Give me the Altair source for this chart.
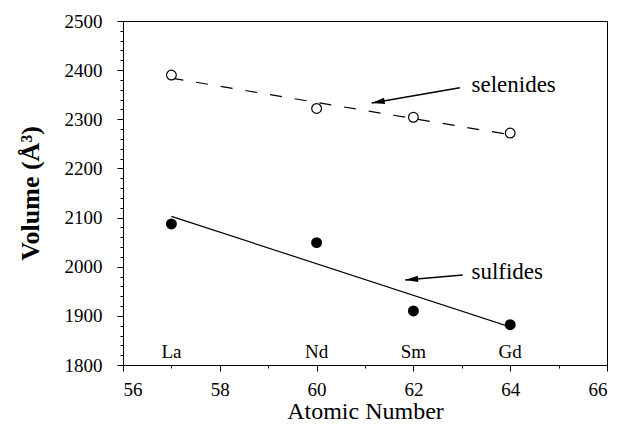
import altair as alt
import pandas as pd

# ---- data ----
atomic_number = [57, 60, 62, 64]
element = ["La", "Nd", "Sm", "Gd"]
selenide_volume = [2390, 2322, 2304, 2272]
sulfide_volume = [2087, 2049, 1910, 1882]
label_level = 1815

annot_text = ["selenides", "sulfides"]
annot_x = [63.2, 63.2]
annot_y = [2370, 1989]
arrow_tail_x = [62.96, 63.02]
arrow_tail_y = [2364, 1983]
arrow_tip_x = [61.14, 61.83]
arrow_tip_y = [2333, 1973]
arrow_angle = [260, 265]

x_major = [56, 58, 60, 62, 64, 66]
x_minor = list(range(56, 67))
y_major = [1800, 1900, 2000, 2100, 2200, 2300, 2400, 2500]
y_minor = list(range(1800, 2501, 20))

FONT = "Liberation Serif"

sel = pd.DataFrame({"Z": atomic_number, "V": selenide_volume})
sul = pd.DataFrame({"Z": atomic_number, "V": sulfide_volume})
labels = pd.DataFrame({"Z": atomic_number, "V": [label_level] * 4, "t": element})
annots = pd.DataFrame({"Z": annot_x, "V": annot_y, "t": annot_text})
arrows = pd.DataFrame({"Z": arrow_tail_x, "V": arrow_tail_y,
                       "Z2": arrow_tip_x, "V2": arrow_tip_y})
heads = pd.DataFrame({"Z": arrow_tip_x, "V": arrow_tip_y, "a": arrow_angle})

xs = alt.Scale(domain=[56, 66], nice=False, zero=False)
ys = alt.Scale(domain=[1800, 2500], nice=False, zero=False)

x_axis = alt.Axis(values=x_major, format="d", title="Atomic Number",
                  tickSize=6, labelPadding=9, titlePadding=0,
                  labelFont=FONT, titleFont=FONT,
                  labelFontSize=19, titleFontSize=24, titleFontWeight="normal",
                  labelColor="black", titleColor="black",
                  domainColor="black", tickColor="black",
                  orient="bottom", grid=False)
y_axis = alt.Axis(values=y_major, format="d", title="Volume (Å³)",
                  tickSize=6, labelPadding=15, titlePadding=21,
                  labelFont=FONT, titleFont=FONT,
                  labelFontSize=19, titleFontSize=26, titleFontWeight="bold",
                  labelColor="black", titleColor="black",
                  domainColor="black", tickColor="black",
                  orient="left", grid=False)
x_minor_axis = alt.Axis(values=x_minor, labels=False, title=None, tickSize=3,
                        tickColor="black", domain=False, grid=False, orient="bottom")
y_minor_axis = alt.Axis(values=y_minor, labels=False, title=None, tickSize=3,
                        tickColor="black", domain=False, grid=False, orient="left")

X = alt.X("Z:Q", scale=xs, axis=None)
Y = alt.Y("V:Q", scale=ys, axis=None)

major = alt.Chart(sel).mark_point(opacity=0).encode(
    x=alt.X("Z:Q", scale=xs, axis=x_axis),
    y=alt.Y("V:Q", scale=ys, axis=y_axis))
minor = alt.Chart(sel).mark_point(opacity=0).encode(
    x=alt.X("Z:Q", scale=xs, axis=x_minor_axis),
    y=alt.Y("V:Q", scale=ys, axis=y_minor_axis))

sel_line = alt.Chart(sel).transform_regression("Z", "V").mark_line(
    color="black", strokeWidth=1.2, strokeDash=[12, 13]).encode(x=X, y=Y)
sul_line = alt.Chart(sul).transform_regression("Z", "V").mark_line(
    color="black", strokeWidth=1.2).encode(x=X, y=Y)
sel_pts = alt.Chart(sel).mark_point(
    shape="circle", filled=True, fill="white", stroke="black",
    strokeWidth=1.2, size=95, opacity=1).encode(x=X, y=Y)
sul_pts = alt.Chart(sul).mark_point(
    shape="circle", filled=True, color="black", size=120, opacity=1).encode(x=X, y=Y)
elem_txt = alt.Chart(labels).mark_text(
    font=FONT, fontSize=19, color="black", baseline="alphabetic", align="center"
).encode(x=X, y=Y, text="t:N")
annot_txt = alt.Chart(annots).mark_text(
    font=FONT, fontSize=23, color="black", baseline="middle", align="left"
).encode(x=X, y=Y, text="t:N")
arrow_lines = alt.Chart(arrows).mark_rule(color="black", strokeWidth=1.5).encode(
    x=X, y=Y, x2="Z2:Q", y2="V2:Q")
arrow_heads = alt.Chart(heads).mark_point(
    shape="M0,0L1,4L-1,4Z", filled=True, color="black", size=42, opacity=1
).encode(x=X, y=Y, angle=alt.Angle("a:Q", scale=None))

chart = alt.layer(
    major, minor, sel_line, sul_line, sel_pts, sul_pts,
    elem_txt, annot_txt, arrow_lines, arrow_heads
).resolve_axis(x="independent", y="independent").properties(
    width=484, height=344,
    autosize=alt.AutoSizeParams(type="none"),
    padding={"left": 115, "top": 13, "right": 6, "bottom": 58},
    background="white",
).configure_view(stroke="black", strokeWidth=1).configure_axis(
    domainColor="black", tickColor="black", labelColor="black",
    titleColor="black", labelFont=FONT, titleFont=FONT, domainWidth=1,
)

chart.save("out.html", embed_options={"renderer": "svg", "actions": False})
